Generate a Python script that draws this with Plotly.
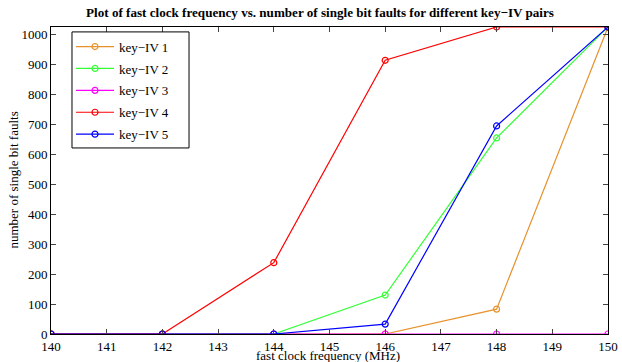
import plotly.graph_objects as go

freq = [140, 142, 144, 146, 148, 150]
names = ["key−IV 1", "key−IV 2", "key−IV 3", "key−IV 4", "key−IV 5"]
faults = [
    [0, 0, 0, 0, 83, 1024],
    [0, 0, 0, 130, 654, 1024],
    [0, 0, 0, 0, 0, 0],
    [0, 0, 238, 913, 1024, 1024],
    [0, 0, 0, 33, 694, 1024],
]
colors = ["#E8922E", "#33FF33", "#FF00FF", "#FF0000", "#0000FF"]
x_ticks = list(range(140, 151))
y_ticks = list(range(0, 1001, 100))
x_title = "fast clock frequency (MHz)"
y_title = "number of single bit faults"

fig = go.Figure()
for n, ys, c in zip(names, faults, colors):
    fig.add_trace(go.Scatter(
        x=freq, y=ys, name=n, legendgroup=n, mode="lines+markers",
        line=dict(color=c, width=1.2),
        marker=dict(symbol="circle-open", size=6, color=c, line=dict(width=1.2)),
    ))

font = "Liberation Serif, Times New Roman, serif"
fig.update_layout(
    width=622, height=362,
    margin=dict(l=51, r=14, t=27, b=28, autoexpand=False),
    paper_bgcolor="white", plot_bgcolor="white",
    font=dict(family=font, size=13, color="black"),
    title=dict(text="<b>Plot of fast clock frequency vs. number of single bit faults for different key−IV pairs</b>",
               x=0.5145, xanchor="center", y=0.967, yanchor="middle",
               font=dict(family=font, size=13.1)),
    legend=dict(x=0.0359, y=0.985, xanchor="left", yanchor="top",
                bgcolor="rgba(0,0,0,0)", borderwidth=0,
                font=dict(family=font, size=13), tracegroupgap=2,
                itemwidth=38),
    showlegend=True,
    shapes=[dict(type="rect", xref="paper", yref="paper",
                 x0=0.0377, x1=0.2478, y0=0.606, y1=0.984,
                 line=dict(color="black", width=1), fillcolor="white",
                 layer="above")],
    annotations=[
        dict(text=x_title, xref="paper", yref="paper", x=0.497, y=-0.069,
             xanchor="center", yanchor="middle", showarrow=False,
             font=dict(family=font, size=13)),
        dict(text=y_title, xref="paper", yref="paper", x=-0.0682, y=0.5,
             xanchor="center", yanchor="middle", showarrow=False, textangle=-90,
             font=dict(family=font, size=13)),
    ],
)
fig.update_xaxes(range=[140, 150], tickvals=x_ticks, ticks="inside", ticklen=5,
                 showline=True, linecolor="black", linewidth=1, mirror="ticks",
                 showgrid=False, zeroline=False, automargin=False)
fig.update_yaxes(range=[0, 1024], tickvals=y_ticks, ticks="inside", ticklen=5,
                 showline=True, linecolor="black", linewidth=1, mirror="ticks",
                 showgrid=False, zeroline=False, automargin=False)
fig.write_html(
    "out.html",
    config={"displayModeBar": False},
    post_script="document.body.style.margin='0';document.body.style.overflow='hidden';",
)
